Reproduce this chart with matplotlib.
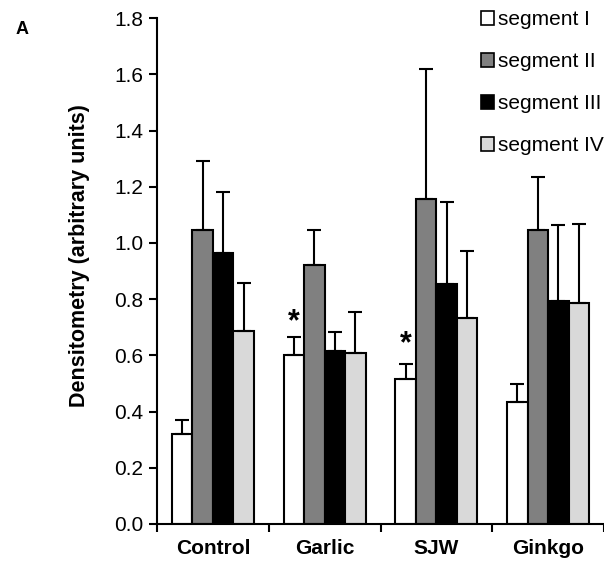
import numpy as np
import matplotlib.pyplot as plt
from matplotlib.patches import Patch

plt.rcParams['font.family'] = ['Liberation Sans', 'DejaVu Sans']

# Data
groups = ['Control', 'Garlic', 'SJW', 'Ginkgo']
segments = ['segment I', 'segment II', 'segment III', 'segment IV']
seg1 = [0.32, 0.60, 0.517, 0.433]
seg2 = [1.046, 0.922, 1.157, 1.046]
seg3 = [0.966, 0.615, 0.854, 0.793]
seg4 = [0.688, 0.61, 0.733, 0.785]
err1 = [0.049, 0.067, 0.052, 0.065]
err2 = [0.246, 0.124, 0.463, 0.189]
err3 = [0.217, 0.068, 0.292, 0.271]
err4 = [0.171, 0.146, 0.239, 0.283]
colors = ['white', '#808080', 'black', '#d9d9d9']
star_groups = [1, 2]
star_y = [0.69, 0.61]

values = [seg1, seg2, seg3, seg4]
errors = [err1, err2, err3, err4]

fig = plt.figure(figsize=(6.04, 5.68), dpi=100)
ax = fig.add_axes([0.26, 0.0775, 0.74, 0.8905])

x = np.arange(len(groups))
width = 0.183
for i in range(4):
    pos = x + (i - 1.5) * width
    ax.bar(pos, values[i], width, color=colors[i], edgecolor='black',
           linewidth=1.5, zorder=2)
    ax.errorbar(pos, values[i], yerr=[np.zeros(4), errors[i]], fmt='none',
                ecolor='black', elinewidth=1.5, capsize=5, capthick=1.5,
                zorder=3)

# significance markers
for g, sy in zip(star_groups, star_y):
    ax.text(x[g] - 1.5 * width, sy, '*', ha='center', va='baseline',
            fontsize=22, fontweight='bold')

ax.set_xlim(-0.5, 3.5)
ax.set_ylim(0, 1.8)
yt = np.arange(0, 1.81, 0.2)
ax.set_yticks(yt)
ax.set_yticklabels([f'{v:.1f}' for v in yt], fontsize=15)
ax.set_xticks(x)
ax.set_xticklabels(groups, fontsize=15, fontweight='bold')
ax.tick_params(axis='x', length=0, pad=11)
ax.set_xticks(np.arange(-0.5, 3.6, 1), minor=True)
ax.tick_params(axis='x', which='minor', length=6, width=1.5, direction='out')
ax.tick_params(axis='y', length=6, width=1.5, direction='out', pad=4)
for s in ['top', 'right']:
    ax.spines[s].set_visible(False)
for s in ['left', 'bottom']:
    ax.spines[s].set_linewidth(1.5)

ax.set_ylabel('Densitometry (arbitrary units)', fontsize=15.5,
              fontweight='bold')
ax.yaxis.set_label_coords(-0.15, 0.53)

handles = [Patch(facecolor=c, edgecolor='black', linewidth=1.2) for c in colors]
ax.legend(handles, segments, loc='upper right', bbox_to_anchor=(1.019, 1.032),
          frameon=False, fontsize=15, handlelength=0.65, handleheight=0.65,
          handletextpad=0.2, labelspacing=1.1, borderaxespad=0)

fig.text(0.025, 0.94, 'A', fontsize=13, fontweight='bold')

fig.savefig('out.png', dpi=100)
